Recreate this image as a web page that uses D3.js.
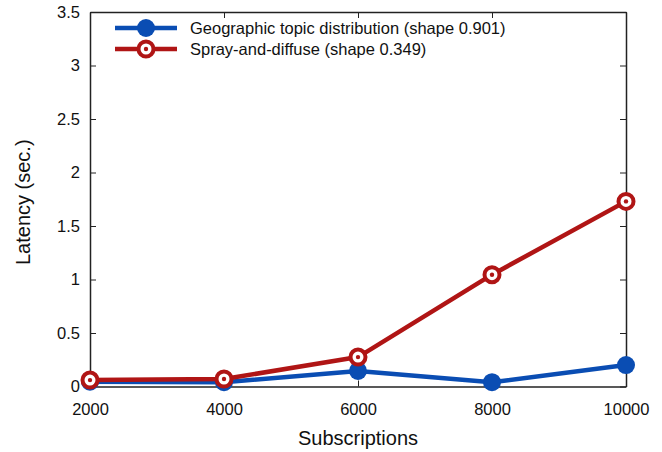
<!DOCTYPE html>
<html>
<head>
<meta charset="utf-8">
<script src="https://cdn.jsdelivr.net/npm/d3@7/dist/d3.min.js"></script>
<style>
  html, body { margin: 0; padding: 0; background: #fff; }
  svg { display: block; font-family: "Liberation Sans", Arial, Helvetica, sans-serif; }
</style>
</head>
<body>
<svg id="chart" width="662" height="452"></svg>
<script>
// Latency vs. number of subscriptions
const subscriptions = [2000, 4000, 6000, 8000, 10000];
const geoLatency = [0.045, 0.04, 0.145, 0.04, 0.20];
const sprayLatency = [0.06, 0.07, 0.275, 1.045, 1.73];
const xTicks = [2000, 4000, 6000, 8000, 10000];
const yTicks = [0, 0.5, 1, 1.5, 2, 2.5, 3, 3.5];
const seriesNames = ["Geographic topic distribution (shape 0.901)", "Spray-and-diffuse (shape 0.349)"];

const BLUE = "#0a4db3";
const RED = "#b01515";

const svg = d3.select("#chart");
const margin = { left: 90, right: 36, top: 12, bottom: 65.5 };
const W = 662, H = 452;

const x = d3.scaleLinear().domain([2000, 10000]).range([margin.left, W - margin.right]);
const y = d3.scaleLinear().domain([0, 3.5]).range([H - margin.bottom, margin.top]);

const tickLen = 6;
const axisColor = "#222";

// Frame with inward ticks on all four sides
const xAxisB = d3.axisBottom(x).tickValues(xTicks).tickSizeInner(-tickLen).tickSizeOuter(0).tickPadding(17).tickFormat(d3.format("d"));
const xAxisT = d3.axisTop(x).tickValues(xTicks).tickSizeInner(-tickLen).tickSizeOuter(0).tickFormat("");
const yAxisL = d3.axisLeft(y).tickValues(yTicks).tickSizeInner(-tickLen).tickSizeOuter(0).tickPadding(10).tickFormat(d3.format("~g"));
const yAxisR = d3.axisRight(y).tickValues(yTicks).tickSizeInner(-tickLen).tickSizeOuter(0).tickFormat("");

function styleAxis(g) {
  g.select(".domain").attr("stroke", axisColor).attr("stroke-width", 1.5);
  g.selectAll(".tick line").attr("stroke", axisColor).attr("stroke-width", 1);
  g.selectAll(".tick text").attr("fill", "#111").style("font-size", "16.5px").style("font-family", "Liberation Sans, Arial, sans-serif");
}

svg.append("g").attr("transform", `translate(0,${y(0)})`).call(xAxisB).call(styleAxis);
svg.append("g").attr("transform", `translate(0,${y(3.5)})`).call(xAxisT).call(styleAxis);
svg.append("g").attr("transform", `translate(${x(2000)},0)`).call(yAxisL).call(styleAxis);
svg.append("g").attr("transform", `translate(${x(10000)},0)`).call(yAxisR).call(styleAxis);

// Axis titles
svg.append("text")
  .attr("x", (x(2000) + x(10000)) / 2).attr("y", 445)
  .attr("text-anchor", "middle").style("font-size", "20px").attr("fill", "#111")
  .text("Subscriptions");
svg.append("text")
  .attr("transform", `translate(30,${(y(0) + y(3.5)) / 2 + 3}) rotate(-90)`)
  .attr("text-anchor", "middle").style("font-size", "20px").attr("fill", "#111")
  .text("Latency (sec.)");

const line = d3.line().x(d => x(d[0])).y(d => y(d[1]));
const geoPts = subscriptions.map((s, i) => [s, geoLatency[i]]);
const sprayPts = subscriptions.map((s, i) => [s, sprayLatency[i]]);

// Blue series: filled circles
function blueMarker(g, cx, cy) {
  g.append("circle").attr("cx", cx).attr("cy", cy).attr("r", 9).attr("fill", BLUE);
}
// Red series: ring with a center dot
function redMarker(g, cx, cy) {
  g.append("circle").attr("cx", cx).attr("cy", cy).attr("r", 7.5).attr("fill", "#fff").attr("stroke", RED).attr("stroke-width", 4);
  g.append("circle").attr("cx", cx).attr("cy", cy).attr("r", 2.2).attr("fill", RED);
}

const plot = svg.append("g");
plot.append("path").datum(geoPts).attr("d", line).attr("fill", "none").attr("stroke", BLUE).attr("stroke-width", 4.5).attr("stroke-linejoin", "round");
geoPts.forEach(p => blueMarker(plot, x(p[0]), y(p[1])));
plot.append("path").datum(sprayPts).attr("d", line).attr("fill", "none").attr("stroke", RED).attr("stroke-width", 4.5).attr("stroke-linejoin", "round");
sprayPts.forEach(p => redMarker(plot, x(p[0]), y(p[1])));

// Legend
const legend = svg.append("g");
const rows = [
  { name: seriesNames[0], color: BLUE, marker: blueMarker, y: 28 },
  { name: seriesNames[1], color: RED, marker: redMarker, y: 49 }
];
rows.forEach(r => {
  legend.append("line").attr("x1", 115).attr("x2", 177).attr("y1", r.y).attr("y2", r.y).attr("stroke", r.color).attr("stroke-width", 4.5);
  r.marker(legend, 146, r.y);
  legend.append("text").attr("x", 190).attr("y", r.y + 6).style("font-size", "16.5px").attr("fill", "#111").text(r.name);
});
</script>
</body>
</html>
